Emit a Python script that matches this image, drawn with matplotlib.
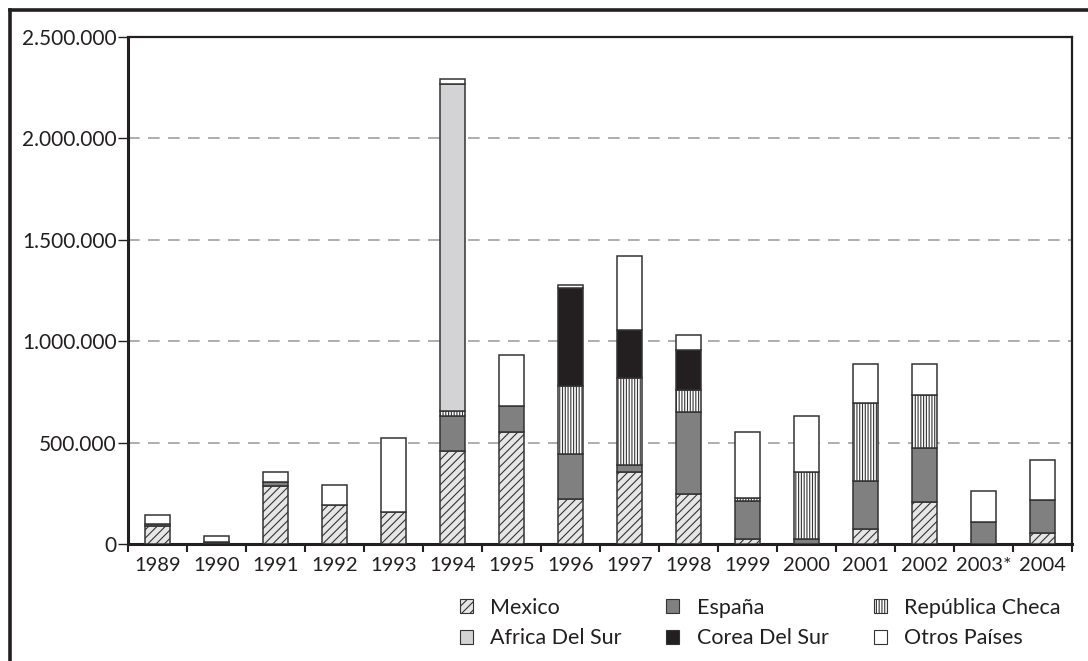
import numpy as np
import matplotlib.pyplot as plt
from matplotlib.patches import Patch
from matplotlib.lines import Line2D
from matplotlib.ticker import FuncFormatter, MultipleLocator

plt.rcParams['font.family'] = ['Lato', 'DejaVu Sans']
plt.rcParams['hatch.linewidth'] = 0.8
plt.rcParams['hatch.color'] = '#231f20'

# values in units (thousands * 1000)
years = ['1989', '1990', '1991', '1992', '1993', '1994', '1995', '1996',
         '1997', '1998', '1999', '2000', '2001', '2002', '2003*', '2004']
mexico = np.array([90, 5, 284, 190, 160, 461, 551, 221, 356, 248, 26, 0, 76, 205, 0, 53]) * 1000
espana = np.array([10, 7, 20, 0, 0, 170, 130, 221, 33, 402, 184, 23, 236, 270, 109, 163]) * 1000
checa = np.array([0, 0, 0, 0, 0, 26, 0, 338, 428, 109, 19, 330, 384, 259, 0, 0]) * 1000
africa = np.array([0, 0, 0, 0, 0, 1611, 0, 0, 0, 0, 0, 0, 0, 0, 0, 0]) * 1000
corea = np.array([0, 0, 0, 0, 0, 0, 0, 483, 237, 196, 0, 0, 0, 0, 0, 0]) * 1000
otros = np.array([43, 28, 51, 103, 364, 25, 251, 16, 365, 75, 321, 277, 193, 154, 150, 200]) * 1000

dark = '#231f20'
series = [
    ('Mexico', mexico, '#e6e6e6', '////'),
    ('España', espana, '#808080', None),
    ('República Checa', checa, 'white', '||||||'),
    ('Africa Del Sur', africa, '#d3d3d5', None),
    ('Corea Del Sur', corea, dark, None),
    ('Otros Países', otros, 'white', None),
]

fig = plt.figure(figsize=(10.88, 6.61), dpi=100)
ax = fig.add_axes([0.1176, 0.177, 0.8677, 0.767])

x = np.arange(len(years))
bottom = np.zeros(len(years))
handles = {}
for name, vals, col, hatch in series:
    m = vals > 0
    ax.bar(x[m], vals[m], bottom=bottom[m], width=0.41, color=col,
           edgecolor='#333333', linewidth=1.1, hatch=hatch, zorder=3)
    bottom = bottom + vals
    handles[name] = Patch(facecolor=col, edgecolor='#333333', linewidth=0.8,
                          hatch=hatch, label=name)

ax.set_xlim(-0.5, len(years) - 0.5)
ax.set_ylim(0, 2500000)
ax.yaxis.set_major_locator(MultipleLocator(500000))
ax.yaxis.set_major_formatter(FuncFormatter(lambda v, p: f'{int(v):,}'.replace(',', '.')))
ax.grid(axis='y', linestyle=(0, (7, 5)), color='#a0a0a0', linewidth=1.2, zorder=0)

ax.set_xticks(x)
ax.set_xticklabels(years)
ax.set_xticks(np.arange(-0.5, len(years)), minor=True)
ax.tick_params(axis='x', which='major', length=0, pad=9, labelsize=14.5, colors=dark)
ax.tick_params(axis='x', which='minor', length=6, width=1.5, direction='out', color=dark)
ax.tick_params(axis='y', length=7, width=1.0, direction='out', labelsize=15,
               colors=dark, pad=1)

for side in ['left', 'bottom']:
    ax.spines[side].set_linewidth(2.2)
    ax.spines[side].set_color(dark)
for side in ['top', 'right']:
    ax.spines[side].set_linewidth(1.6)
    ax.spines[side].set_color(dark)

order = ['Mexico', 'Africa Del Sur', 'España', 'Corea Del Sur',
         'República Checa', 'Otros Países']
fig.legend(handles=[handles[n] for n in order], ncol=3, loc='upper left',
           bbox_to_anchor=(0.4145, 0.109), frameon=False, fontsize=15.5,
           handlelength=0.6, handleheight=0.6, handletextpad=0.8,
           columnspacing=2.1, labelspacing=0.5, borderaxespad=0,
           labelcolor=dark)

# outer frame (runs off the right and bottom edges)
fig.add_artist(Line2D([10 / 1088, 10 / 1088], [1 - 10 / 661, 0],
                      color=dark, linewidth=2.6, transform=fig.transFigure))
fig.add_artist(Line2D([10 / 1088, 1], [1 - 10 / 661, 1 - 10 / 661],
                      color=dark, linewidth=2.6, transform=fig.transFigure))

fig.savefig('out.png', dpi=100)
